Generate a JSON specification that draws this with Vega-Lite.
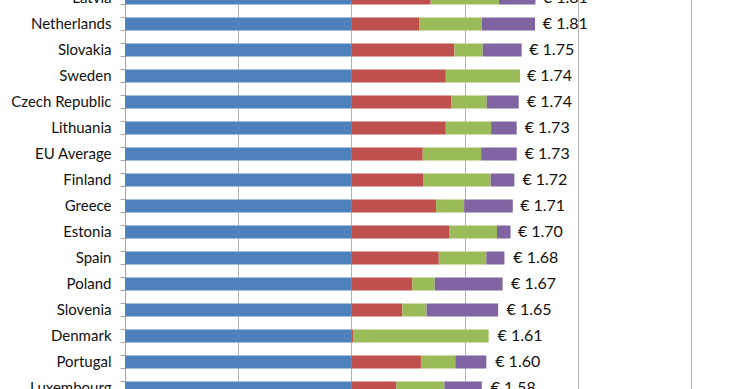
{
  "$schema": "https://vega.github.io/schema/vega-lite/v6.json",
  "width": 566,
  "height": 416,
  "autosize": {"type": "none"},
  "padding": {"left": 125, "top": -15, "right": 49, "bottom": 0},
  "background": "white",
  "config": {"view": {"stroke": null}, "font": "Lato"},
  "datasets": {
    "segments": [
      {"country": "Latvia", "series": "Series 1", "value": 1.0},
      {"country": "Latvia", "series": "Series 2", "value": 0.350},
      {"country": "Latvia", "series": "Series 3", "value": 0.302},
      {"country": "Latvia", "series": "Series 4", "value": 0.161},
      {"country": "Netherlands", "series": "Series 1", "value": 1.0},
      {"country": "Netherlands", "series": "Series 2", "value": 0.299},
      {"country": "Netherlands", "series": "Series 3", "value": 0.277},
      {"country": "Netherlands", "series": "Series 4", "value": 0.235},
      {"country": "Slovakia", "series": "Series 1", "value": 1.0},
      {"country": "Slovakia", "series": "Series 2", "value": 0.455},
      {"country": "Slovakia", "series": "Series 3", "value": 0.125},
      {"country": "Slovakia", "series": "Series 4", "value": 0.172},
      {"country": "Sweden", "series": "Series 1", "value": 1.0},
      {"country": "Sweden", "series": "Series 2", "value": 0.417},
      {"country": "Sweden", "series": "Series 3", "value": 0.328},
      {"country": "Czech Republic", "series": "Series 1", "value": 1.0},
      {"country": "Czech Republic", "series": "Series 2", "value": 0.442},
      {"country": "Czech Republic", "series": "Series 3", "value": 0.156},
      {"country": "Czech Republic", "series": "Series 4", "value": 0.141},
      {"country": "Lithuania", "series": "Series 1", "value": 1.0},
      {"country": "Lithuania", "series": "Series 2", "value": 0.417},
      {"country": "Lithuania", "series": "Series 3", "value": 0.200},
      {"country": "Lithuania", "series": "Series 4", "value": 0.113},
      {"country": "EU Average", "series": "Series 1", "value": 1.0},
      {"country": "EU Average", "series": "Series 2", "value": 0.315},
      {"country": "EU Average", "series": "Series 3", "value": 0.258},
      {"country": "EU Average", "series": "Series 4", "value": 0.157},
      {"country": "Finland", "series": "Series 1", "value": 1.0},
      {"country": "Finland", "series": "Series 2", "value": 0.319},
      {"country": "Finland", "series": "Series 3", "value": 0.296},
      {"country": "Finland", "series": "Series 4", "value": 0.105},
      {"country": "Greece", "series": "Series 1", "value": 1.0},
      {"country": "Greece", "series": "Series 2", "value": 0.374},
      {"country": "Greece", "series": "Series 3", "value": 0.124},
      {"country": "Greece", "series": "Series 4", "value": 0.215},
      {"country": "Estonia", "series": "Series 1", "value": 1.0},
      {"country": "Estonia", "series": "Series 2", "value": 0.434},
      {"country": "Estonia", "series": "Series 3", "value": 0.209},
      {"country": "Estonia", "series": "Series 4", "value": 0.060},
      {"country": "Spain", "series": "Series 1", "value": 1.0},
      {"country": "Spain", "series": "Series 2", "value": 0.386},
      {"country": "Spain", "series": "Series 3", "value": 0.210},
      {"country": "Spain", "series": "Series 4", "value": 0.080},
      {"country": "Poland", "series": "Series 1", "value": 1.0},
      {"country": "Poland", "series": "Series 2", "value": 0.269},
      {"country": "Poland", "series": "Series 3", "value": 0.099},
      {"country": "Poland", "series": "Series 4", "value": 0.300},
      {"country": "Slovenia", "series": "Series 1", "value": 1.0},
      {"country": "Slovenia", "series": "Series 2", "value": 0.225},
      {"country": "Slovenia", "series": "Series 3", "value": 0.107},
      {"country": "Slovenia", "series": "Series 4", "value": 0.316},
      {"country": "Denmark", "series": "Series 1", "value": 1.0},
      {"country": "Denmark", "series": "Series 2", "value": 0.007},
      {"country": "Denmark", "series": "Series 3", "value": 0.599},
      {"country": "Portugal", "series": "Series 1", "value": 1.0},
      {"country": "Portugal", "series": "Series 2", "value": 0.307},
      {"country": "Portugal", "series": "Series 3", "value": 0.152},
      {"country": "Portugal", "series": "Series 4", "value": 0.137},
      {"country": "Luxembourg", "series": "Series 1", "value": 1.0},
      {"country": "Luxembourg", "series": "Series 2", "value": 0.199},
      {"country": "Luxembourg", "series": "Series 3", "value": 0.212},
      {"country": "Luxembourg", "series": "Series 4", "value": 0.165}
    ],
    "totals": [
      {"country": "Latvia", "total": 1.81, "label": "€ 1.81"},
      {"country": "Netherlands", "total": 1.81, "label": "€ 1.81"},
      {"country": "Slovakia", "total": 1.75, "label": "€ 1.75"},
      {"country": "Sweden", "total": 1.74, "label": "€ 1.74"},
      {"country": "Czech Republic", "total": 1.74, "label": "€ 1.74"},
      {"country": "Lithuania", "total": 1.73, "label": "€ 1.73"},
      {"country": "EU Average", "total": 1.73, "label": "€ 1.73"},
      {"country": "Finland", "total": 1.72, "label": "€ 1.72"},
      {"country": "Greece", "total": 1.71, "label": "€ 1.71"},
      {"country": "Estonia", "total": 1.70, "label": "€ 1.70"},
      {"country": "Spain", "total": 1.68, "label": "€ 1.68"},
      {"country": "Poland", "total": 1.67, "label": "€ 1.67"},
      {"country": "Slovenia", "total": 1.65, "label": "€ 1.65"},
      {"country": "Denmark", "total": 1.61, "label": "€ 1.61"},
      {"country": "Portugal", "total": 1.60, "label": "€ 1.60"},
      {"country": "Luxembourg", "total": 1.58, "label": "€ 1.58"}
    ]
  },
  "layer": [
    {
      "data": {"name": "segments"},
      "mark": {"type": "bar"},
      "encoding": {
        "y": {
          "field": "country", "type": "nominal",
          "sort": ["Latvia", "Netherlands", "Slovakia", "Sweden", "Czech Republic", "Lithuania", "EU Average", "Finland", "Greece", "Estonia", "Spain", "Poland", "Slovenia", "Denmark", "Portugal", "Luxembourg"],
          "scale": {"paddingInner": 0.5, "paddingOuter": 0.25},
          "axis": {"title": null, "orient": "left", "bandPosition": 0, "tickSize": 5, "tickColor": "#a6a6a6", "domainColor": "#a6a6a6", "labelPadding": 9, "labelFont": "Lato", "labelFontSize": 15, "labelColor": "#111111", "grid": false}
        },
        "x": {
          "field": "value", "type": "quantitative", "stack": "zero",
          "scale": {"domain": [0, 2.5], "nice": false},
          "axis": {"title": null, "labels": false, "ticks": false, "domain": false, "values": [0, 0.5, 1, 1.5, 2, 2.5], "gridColor": "#b3b3b3"}
        },
        "color": {
          "field": "series", "type": "nominal",
          "scale": {"domain": ["Series 1", "Series 2", "Series 3", "Series 4"], "range": ["#4F81BD", "#C0504D", "#9BBB59", "#8064A2"]},
          "legend": null
        }
      }
    },
    {
      "data": {"name": "totals"},
      "mark": {"type": "text", "align": "left", "baseline": "middle", "dx": 8, "fontSize": 16, "font": "Lato", "color": "#111111"},
      "encoding": {
        "y": {
          "field": "country", "type": "nominal",
          "sort": ["Latvia", "Netherlands", "Slovakia", "Sweden", "Czech Republic", "Lithuania", "EU Average", "Finland", "Greece", "Estonia", "Spain", "Poland", "Slovenia", "Denmark", "Portugal", "Luxembourg"],
          "axis": {"title": null, "orient": "left", "bandPosition": 1, "labels": false, "domain": false, "tickSize": 5, "tickColor": "#a6a6a6", "grid": false}
        },
        "x": {"field": "total", "type": "quantitative"},
        "text": {"field": "label"}
      }
    }
  ],
  "resolve": {"axis": {"y": "independent"}}
}
